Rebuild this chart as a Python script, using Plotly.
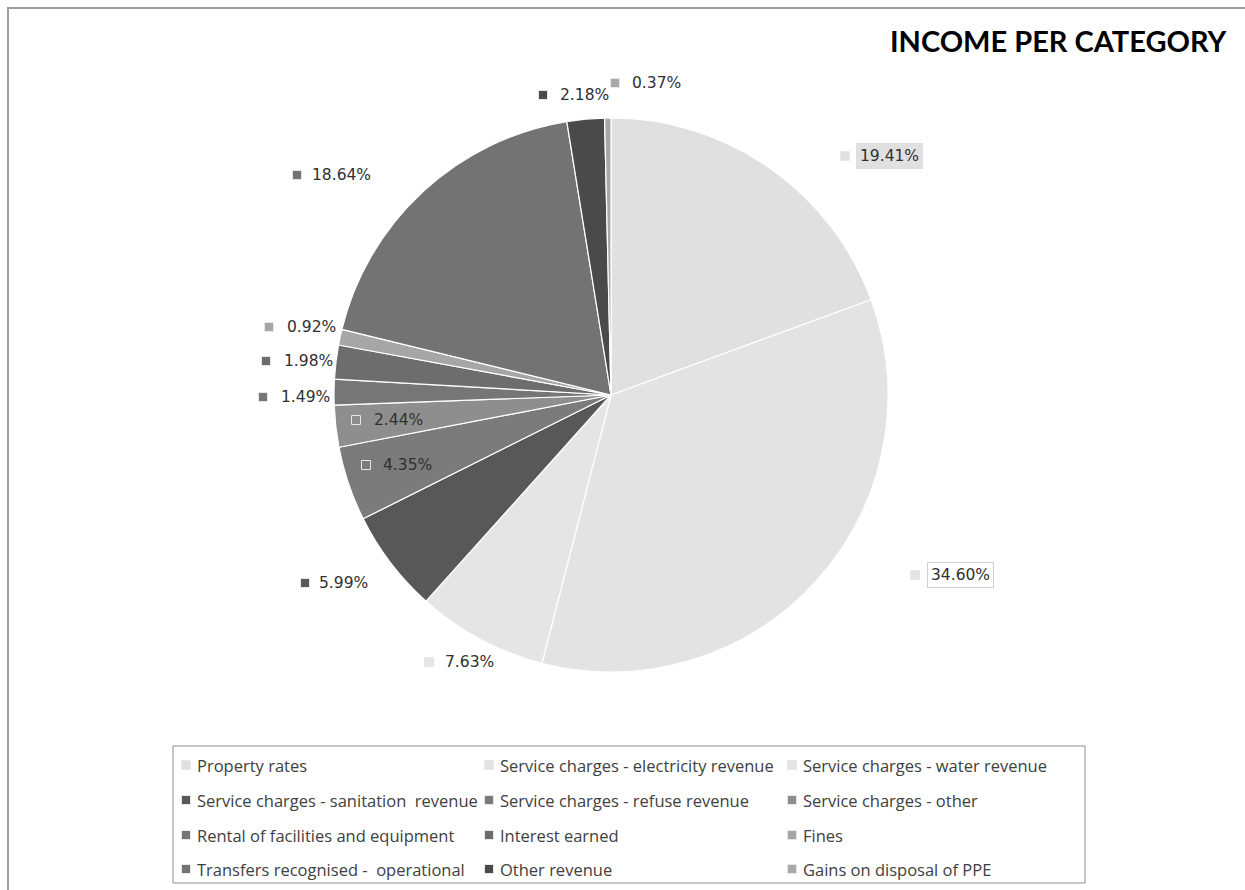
import plotly.graph_objects as go

# ---- data -------------------------------------------------------------
categories = [
    "Property rates",
    "Service charges - electricity revenue",
    "Service charges - water revenue",
    "Service charges - sanitation\u00a0 revenue",
    "Service charges - refuse revenue",
    "Service charges - other",
    "Rental of facilities and equipment",
    "Interest earned",
    "Fines",
    "Transfers recognised -\u00a0 operational",
    "Other revenue",
    "Gains on disposal of PPE",
]
shares = [19.41, 34.60, 7.63, 5.99, 4.35, 2.44, 1.49, 1.98, 0.92, 18.64, 2.18, 0.37]

# ---- styling ----------------------------------------------------------
colors = ["#e0e0e0", "#e3e3e3", "#e5e5e5", "#585858", "#7b7b7b", "#8e8e8e",
          "#767676", "#6d6d6d", "#a6a6a6", "#737373", "#4a4a4a", "#a8a8a8"]

W, H = 1245, 890


def px(x):
    return x / W


def py(y):
    return 1 - y / H


# pie placement (pixel centre and radius)
cx, cy, r = 611, 395, 277

# data-label anchors: (key centre x, key centre y, text left x)
label_pos = [
    (845, 156, 856), (915, 575, 927), (429, 662, 441), (305, 583, 315),
    (366, 465, 379), (356, 420, 370), (263, 397, 277), (266, 361, 280),
    (269, 327, 283), (297, 175, 308), (543, 95, 556), (615, 83, 628),
]
label_box = {0: dict(bgcolor="#e0e0e0", bordercolor="#e0e0e0"),
             1: dict(bgcolor="white", bordercolor="#d0d0d0")}

fig = go.Figure(go.Pie(
    labels=categories,
    values=shares,
    sort=False,
    direction="clockwise",
    rotation=0,
    marker=dict(colors=colors, line=dict(color="white", width=1.2)),
    textinfo="none",
    hoverinfo="label+percent",
    showlegend=False,
    domain=dict(x=[px(cx - r), px(cx + r)], y=[py(cy + r), py(cy - r)]),
))

shapes = []
annotations = []

# outer chart frame
shapes.append(dict(type="rect", xref="paper", yref="paper",
                   x0=px(8), y0=py(8), x1=px(W + 20), y1=py(H + 20),
                   line=dict(color="#a0a0a0", width=2), fillcolor="rgba(0,0,0,0)"))

KEY = 4.5
label_font = dict(family="DejaVu Sans", size=15.5, color="#303030")

# data labels with their colour keys
for i, v in enumerate(shares):
    kx, ky, tx = label_pos[i]
    shapes.append(dict(type="rect", xref="paper", yref="paper",
                       x0=px(kx - KEY), x1=px(kx + KEY),
                       y0=py(ky + KEY), y1=py(ky - KEY),
                       fillcolor=colors[i], line=dict(color="#e8e8e8", width=1)))
    box = label_box.get(i, dict(bgcolor="rgba(0,0,0,0)", bordercolor="rgba(0,0,0,0)"))
    annotations.append(dict(
        text=f"{v:.2f}%", xref="paper", yref="paper",
        x=px(tx), y=py(ky), xanchor="left", yanchor="middle",
        showarrow=False, font=label_font, borderpad=3, borderwidth=1, **box))

# legend frame and entries (3 columns, row-major)
shapes.append(dict(type="rect", xref="paper", yref="paper",
                   x0=px(173), x1=px(1085), y0=py(883), y1=py(746),
                   line=dict(color="#8c8c8c", width=1), fillcolor="white"))
col_x = [186, 489, 792]
row_y = [765, 800, 835, 869]
legend_font = dict(family="Open Sans", size=16.5, color="#404040")
for i, name in enumerate(categories):
    kx = col_x[i % 3]
    ky = row_y[i // 3]
    shapes.append(dict(type="rect", xref="paper", yref="paper",
                       x0=px(kx - KEY), x1=px(kx + KEY),
                       y0=py(ky + KEY), y1=py(ky - KEY),
                       fillcolor=colors[i], line=dict(color="#e8e8e8", width=1)))
    annotations.append(dict(
        text=name, xref="paper", yref="paper",
        x=px(kx + 9), y=py(ky), xanchor="left", yanchor="middle",
        showarrow=False, font=legend_font))

# chart title
annotations.append(dict(
    text="<b>INCOME PER CATEGORY</b>", xref="paper", yref="paper",
    x=px(1229), y=py(40), xanchor="right", yanchor="middle",
    showarrow=False, font=dict(family="Lato", size=29, color="#000000")))

fig.update_layout(
    width=W, height=H,
    margin=dict(l=0, r=0, t=0, b=0),
    paper_bgcolor="white",
    plot_bgcolor="white",
    shapes=shapes,
    annotations=annotations,
)

fig.write_html("out.html")
